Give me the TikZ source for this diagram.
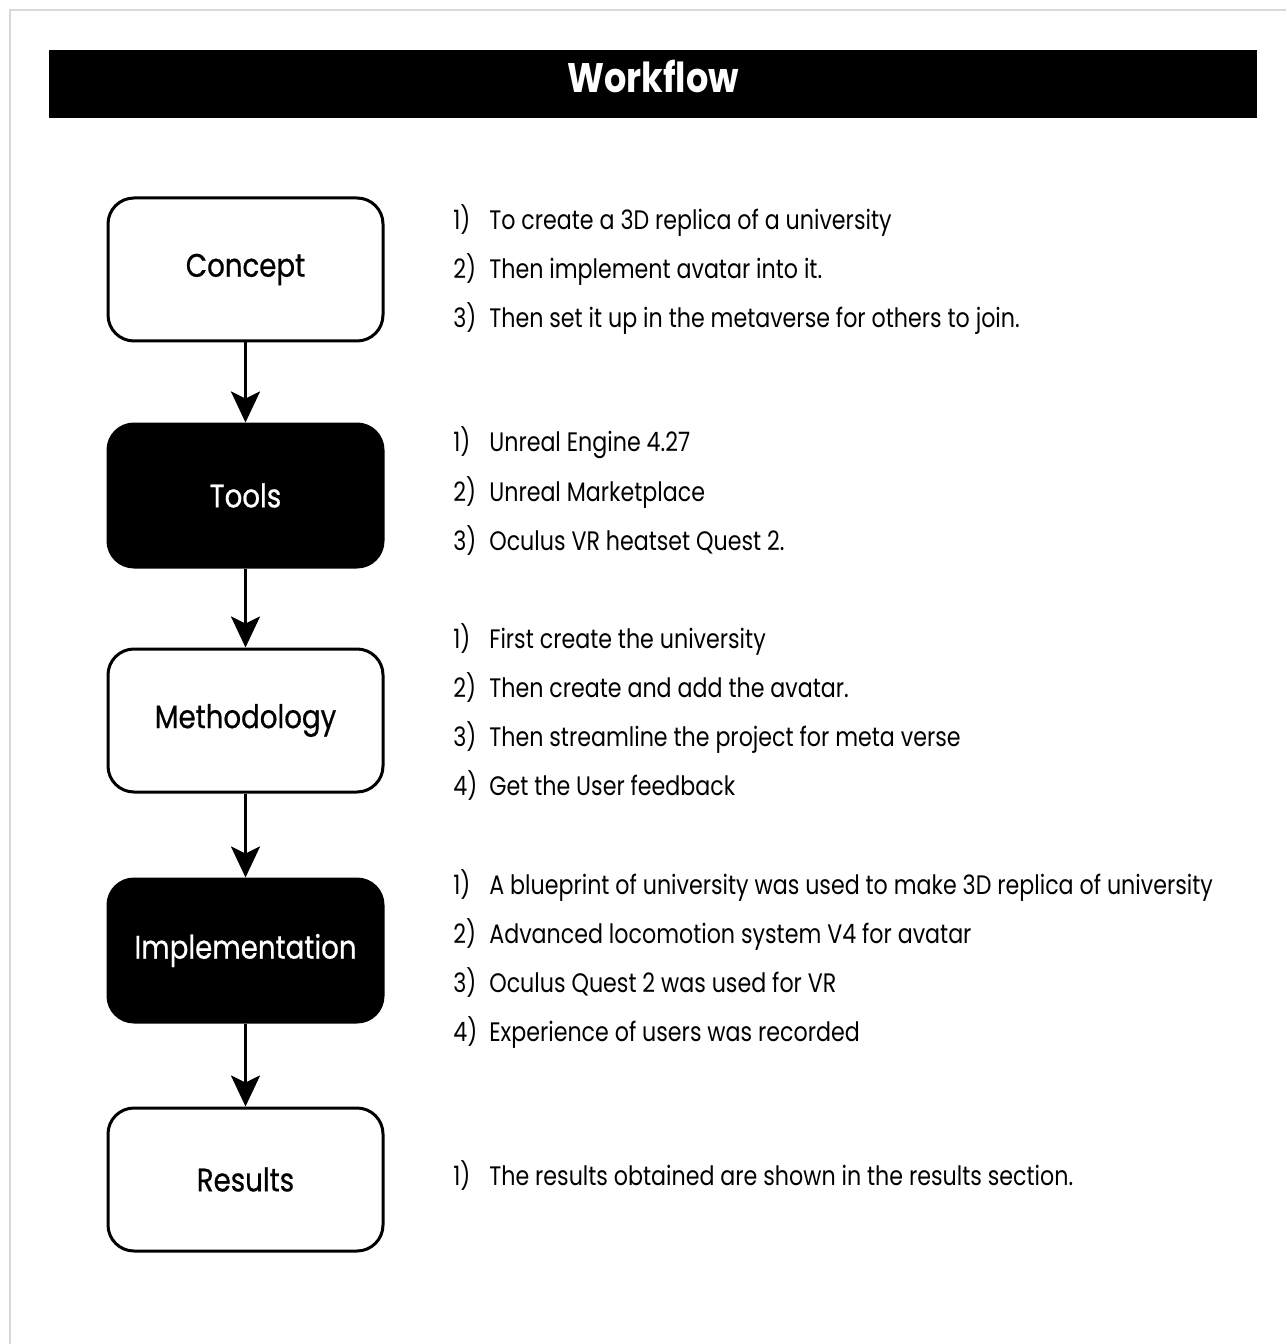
\documentclass[tikz,border=0pt]{standalone}
\usepackage{fontspec}
\setmainfont{Poppins}
\newfontfamily\itemfont{Poppins}[FakeStretch=0.83]
\newfontfamily\stagefont{Poppins}[FakeStretch=0.85, FakeBold=0.6]
\newfontfamily\titlefont{Poppins}[FakeStretch=0.85]
\usepackage{tikz}
\usetikzlibrary{arrows.meta}

\newlength{\pxu}
\setlength{\pxu}{0.02cm}
\newcommand{\stepitem}[2]{\makebox[36\pxu][l]{#1}#2}

\begin{document}
\begin{tikzpicture}[x=0.02cm, y=-0.02cm,
        stagebox/.style={draw=black, line width=3\pxu, rounded corners=26\pxu,
            minimum width=275\pxu, minimum height=143\pxu, inner sep=0pt,
            font=\stagefont\fontsize{18.5pt}{20pt}\selectfont},
        lightstage/.style={stagebox, fill=white, text=black},
        darkstage/.style={stagebox, fill=black, text=white},
        itemtext/.style={anchor=west, inner sep=0pt, font=\itemfont\fontsize{15.2pt}{17pt}\selectfont},
        flow/.style={line width=0.06cm, -{Stealth[length=0.62cm, width=0.58cm, inset=0.14cm]}}]
    \useasboundingbox (0,0) rectangle (1286,1344);
    \fill[white] (0,0) rectangle (1286,1344);
    \draw[gray!30, line width=2\pxu] (10,1344) -- (10,10) -- (1286,10);
    % title bar
    \fill[black] (49,50) rectangle (1257,118);
    \node[anchor=base, text=white, inner sep=0pt,
        font=\titlefont\bfseries\fontsize{23.5pt}{26pt}\selectfont] (title) at (653,93) {Workflow};
    % stages
    \node[lightstage] (concept) at (245.5,269.5) {Concept};
    \node[darkstage]  (tools)   at (245.5,495.5) {Tools};
    \node[lightstage] (method)  at (245.5,720.5) {Methodology};
    \node[darkstage]  (impl)    at (245.5,950.5) {Implementation};
    \node[lightstage] (results) at (245.5,1179.5) {Results};
    \draw[flow] (concept) -- (tools);
    \draw[flow] (tools) -- (method);
    \draw[flow] (method) -- (impl);
    \draw[flow] (impl) -- (results);
    % descriptions
    \node[itemtext] (c1) at (453,221) {\stepitem{1)}{To create a 3D replica of a university}};
    \node[itemtext] (c2) at (453,270) {\stepitem{2)}{Then implement avatar into it.}};
    \node[itemtext] (c3) at (453,319) {\stepitem{3)}{Then set it up in the metaverse for others to join.}};
    \node[itemtext] (t1) at (453,443) {\stepitem{1)}{Unreal Engine 4.27}};
    \node[itemtext] (t2) at (453,492) {\stepitem{2)}{Unreal Marketplace}};
    \node[itemtext] (t3) at (453,541) {\stepitem{3)}{Oculus VR heatset Quest 2.}};
    \node[itemtext] (m1) at (453,639) {\stepitem{1)}{First create the university}};
    \node[itemtext] (m2) at (453,688) {\stepitem{2)}{Then create and add the avatar.}};
    \node[itemtext] (m3) at (453,737) {\stepitem{3)}{Then streamline the project for meta verse}};
    \node[itemtext] (m4) at (453,786) {\stepitem{4)}{Get the User feedback}};
    \node[itemtext] (i1) at (453,885) {\stepitem{1)}{A blueprint of university was used to make 3D replica of university}};
    \node[itemtext] (i2) at (453,934) {\stepitem{2)}{Advanced locomotion system V4 for avatar}};
    \node[itemtext] (i3) at (453,983) {\stepitem{3)}{Oculus Quest 2 was used for VR}};
    \node[itemtext] (i4) at (453,1032) {\stepitem{4)}{Experience of users was recorded}};
    \node[itemtext] (r1) at (453,1175) {\stepitem{1)}{The results obtained are shown in the results section.}};
\end{tikzpicture}
\end{document}
